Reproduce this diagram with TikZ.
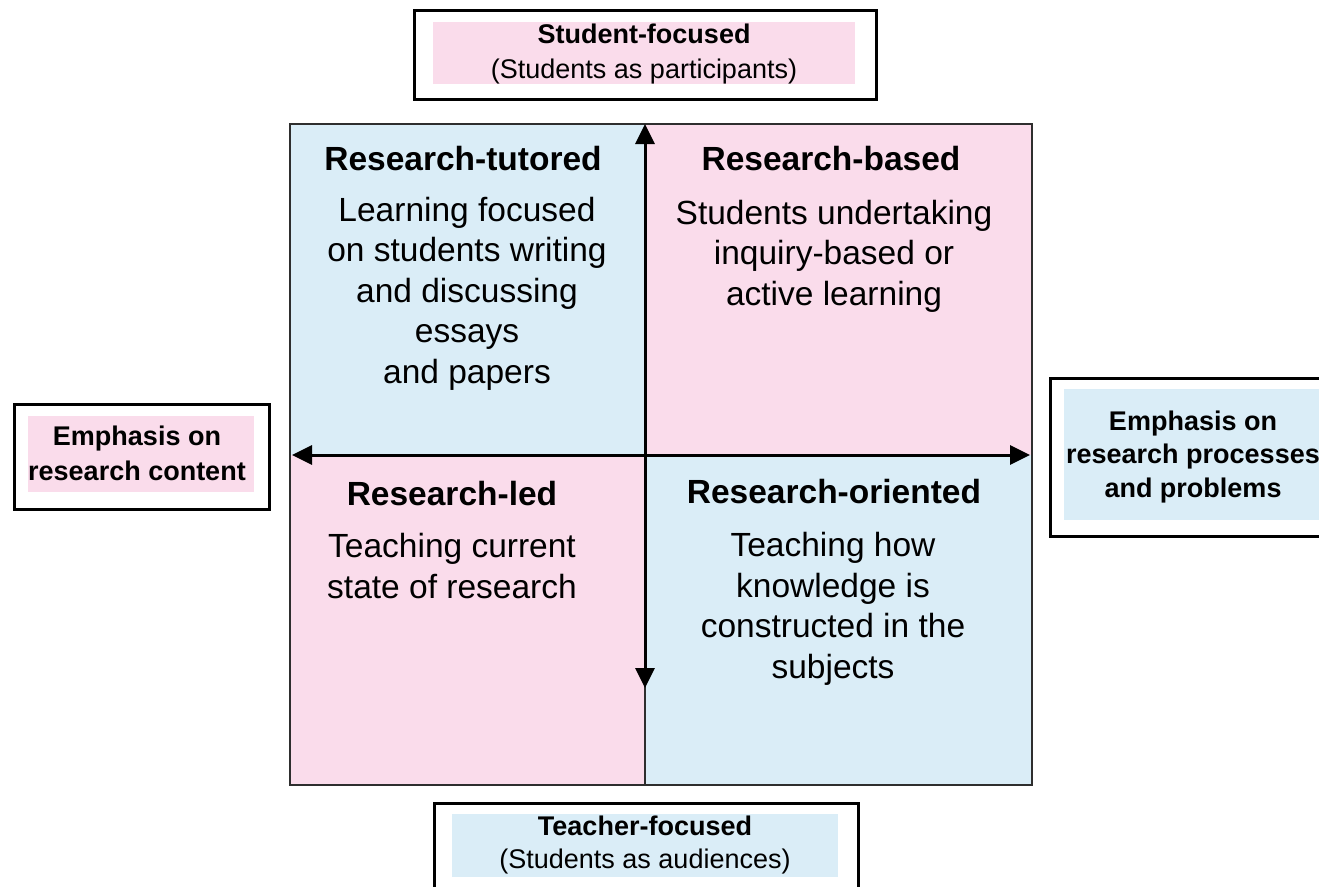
\documentclass[tikz,border=0pt]{standalone}
\usepackage{fontspec}
\setmainfont{Liberation Sans}
\usetikzlibrary{arrows.meta}
\definecolor{qpink}{HTML}{FADCEB}
\definecolor{qblue}{HTML}{DAEDF7}
\definecolor{edgegray}{HTML}{2E2E2E}
\begin{document}
\begin{tikzpicture}[x=1pt,y=-1pt,
  quad/.style={rectangle, inner sep=0pt, outer sep=0pt, anchor=north west},
  qtitle/.style={font=\fontsize{33.5}{40.5}\selectfont\bfseries, inner sep=0pt, anchor=base},
  qbody/.style={font=\fontsize{33.5}{40.5}\selectfont, align=center, inner sep=0pt, anchor=base},
  framebox/.style={rectangle, draw=black, line width=2.6pt, inner sep=0pt, anchor=north west, fill=white},
  fillbox/.style={rectangle, inner sep=0pt, anchor=north west},
  boxtext/.style={font=\fontsize{27}{34}\selectfont, align=center, inner sep=0pt, anchor=base},
  axis/.style={line width=3pt, {Triangle[width=19pt,length=20pt]}-{Triangle[width=19pt,length=20pt]}},
  divider/.style={draw=edgegray, line width=1.6pt}
]
\useasboundingbox (0,0) rectangle (1319,886);
\clip (0,0) rectangle (1319,886);
\fill[white] (0,0) rectangle (1319,886);

% quadrants
\node[quad, fill=qblue, minimum width=355pt, minimum height=331pt] (tl) at (290,124) {};
\node[quad, fill=qpink, minimum width=387pt, minimum height=331pt] (tr) at (645,124) {};
\node[quad, fill=qpink, minimum width=355pt, minimum height=330pt] (bl) at (290,455) {};
\node[quad, fill=qblue, minimum width=387pt, minimum height=330pt] (br) at (645,455) {};
\draw[divider] (tl.north west) rectangle (br.south east);
\draw[divider] (bl.north east) -- (bl.south east);

% axes
\coordinate (vtop) at (645,124);
\coordinate (vbot) at (645,688);
\coordinate (hleft) at (292,455);
\coordinate (hright) at (1030,455);
\draw[axis] (hleft) -- (hright);
\draw[axis] (vbot) -- (vtop);

% quadrant texts (multi-line nodes: base = last line baseline)
\node[qtitle] (t1) at (463,170) {Research-tutored};
\node[qbody] (b1) at (467,383) {Learning focused\\on students writing\\and discussing\\essays\\and papers};
\node[qtitle] (t2) at (831,170) {Research-based};
\node[qbody] (b2) at (834,305) {Students undertaking\\inquiry-based or\\active learning};
\node[qtitle] (t3) at (452,505) {Research-led};
\node[qbody] (b3) at (452,598) {Teaching current\\state of research};
\node[qtitle] (t4) at (834,503) {Research-oriented};
\node[qbody] (b4) at (833,678) {Teaching how\\knowledge is\\constructed in the\\subjects};

% top box
\node[framebox, minimum width=462pt, minimum height=89pt] (topbox) at (413,9) {};
\node[fillbox, fill=qpink, minimum width=422pt, minimum height=62pt] (topfill) at (433,22) {};
\node[boxtext, font=\fontsize{27}{35}\selectfont] (toptext) at (644,78) {\textbf{Student-focused}\\(Students as participants)};

% left box
\node[framebox, minimum width=255pt, minimum height=105pt] (leftbox) at (13,403) {};
\node[fillbox, fill=qpink, minimum width=226pt, minimum height=76pt] (leftfill) at (28,416) {};
\node[boxtext, font=\fontsize{27}{35}\selectfont\bfseries] (lefttext) at (137,480) {Emphasis on\\research content};

% right box
\node[framebox, minimum width=300pt, minimum height=158pt] (rightbox) at (1049,377) {};
\node[fillbox, fill=qblue, minimum width=280pt, minimum height=131pt] (rightfill) at (1064,389) {};
\node[boxtext, font=\fontsize{27}{33.5}\selectfont\bfseries] (righttext) at (1193,497) {Emphasis on\\research processes\\and problems};

% bottom box
\node[framebox, minimum width=424pt, minimum height=120pt] (botbox) at (433,802) {};
\node[fillbox, fill=qblue, minimum width=386pt, minimum height=63pt] (botfill) at (452,814) {};
\node[boxtext, font=\fontsize{27}{33}\selectfont] (bottext) at (645,868) {\textbf{Teacher-focused}\\(Students as audiences)};
\end{tikzpicture}
\end{document}
